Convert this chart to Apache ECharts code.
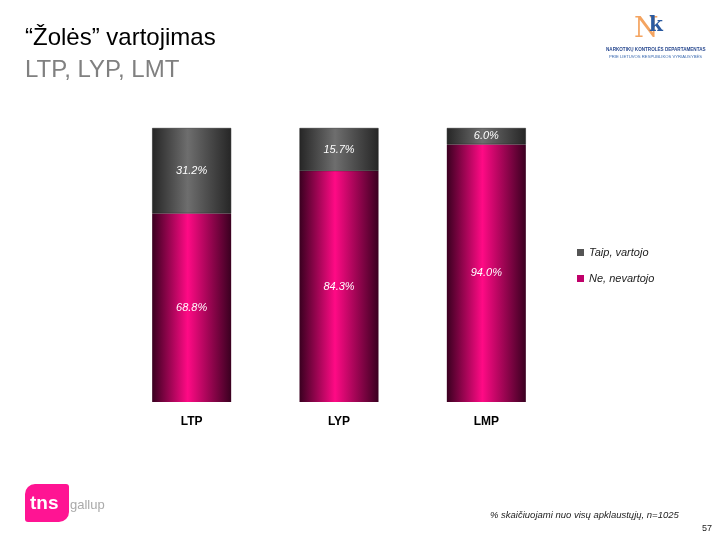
<!DOCTYPE html>
<html>
<head>
<meta charset="utf-8">
<script src="https://cdn.jsdelivr.net/npm/echarts@6/dist/echarts.min.js"></script>
<style>
body { margin: 0; background: #fff; }
#main { width: 720px; height: 540px; }
</style>
</head>
<body>
<div id="main"></div>
<script>
var categories = ['LTP', 'LYP', 'LMP']
var neValues = [68.8, 84.3, 94.0]
var taipValues = [31.2, 15.7, 6.0]
var seriesNames = ['Taip, vartojo', 'Ne, nevartojo']

function barGrad (edge, mid) {
  return new echarts.graphic.LinearGradient(0, 0, 1, 0, [
    { offset: 0, color: edge },
    { offset: 0.45, color: mid },
    { offset: 1, color: edge }
  ])
}

var labelStyle = {
  show: true,
  position: 'inside',
  color: '#fff',
  fontStyle: 'italic',
  fontSize: 11,
  fontFamily: 'Liberation Sans',
  formatter: function (p) { return p.value.toFixed(1) + '%' }
}

var chart = echarts.init(document.getElementById('main'))
chart.setOption({
  animation: false,
  grid: { left: 118, right: 160, top: 128, bottom: 138 },
  legend: {
    orient: 'vertical',
    left: 572,
    top: 242,
    itemGap: 15,
    itemWidth: 7,
    itemHeight: 7,
    icon: 'rect',
    data: [
      { name: seriesNames[0], itemStyle: { color: '#555555', borderWidth: 0 } },
      { name: seriesNames[1], itemStyle: { color: '#c0006a', borderWidth: 0 } }
    ],
    textStyle: { fontStyle: 'italic', fontSize: 11, color: '#222', fontFamily: 'Liberation Sans' }
  },
  xAxis: {
    type: 'category',
    data: categories,
    axisLine: { show: false },
    axisTick: { show: false },
    axisLabel: { color: '#000', fontWeight: 'bold', fontSize: 12, margin: 14, fontFamily: 'Liberation Sans' }
  },
  yAxis: {
    type: 'value',
    min: 0,
    max: 100,
    show: false
  },
  series: [
    {
      name: seriesNames[1],
      type: 'bar',
      stack: 'a',
      barWidth: 79,
      data: neValues,
      itemStyle: { color: barGrad('#3a0020', '#ff0a85') },
      label: labelStyle
    },
    {
      name: seriesNames[0],
      type: 'bar',
      stack: 'a',
      barWidth: 79,
      data: taipValues,
      itemStyle: { color: barGrad('#262626', '#6e6e6e'), borderColor: '#1a1a1a', borderWidth: 0.5 },
      label: labelStyle
    }
  ],
  graphic: [
    { type: 'text', left: 25, top: 26, style: { text: '“Žolės” vartojimas', fontSize: 24, fill: '#000', fontFamily: 'Liberation Sans', shadowColor: 'rgba(0,0,0,0.2)', shadowOffsetX: 1, shadowOffsetY: 1, shadowBlur: 1 } },
    { type: 'text', left: 25, top: 58, style: { text: 'LTP, LYP, LMT', fontSize: 24, fill: '#808080', fontFamily: 'Liberation Sans', shadowColor: 'rgba(0,0,0,0.2)', shadowOffsetX: 1, shadowOffsetY: 1, shadowBlur: 1 } },
    // NKD logo
    { type: 'text', left: 634, top: 16, style: { text: 'N', fontSize: 28, fill: '#f4a460', fontFamily: 'DejaVu Serif' } },
    { type: 'text', left: 649, top: 16, style: { text: 'k', fontSize: 20, fill: '#2a5aa0', fontFamily: 'DejaVu Serif', fontWeight: 'bold' } },
    { type: 'text', left: 606, top: 47, style: { text: 'NARKOTIKŲ KONTROLĖS DEPARTAMENTAS', fontSize: 4.6, fontWeight: 'bold', fill: '#2a4a90', fontFamily: 'Liberation Sans' } },
    { type: 'text', left: 609, top: 55, style: { text: 'PRIE LIETUVOS RESPUBLIKOS VYRIAUSYBĖS', fontSize: 4.2, fill: '#3a6ab0', fontFamily: 'Liberation Sans' } },
    // tns gallup logo
    { type: 'rect', left: 25, top: 484, shape: { width: 44, height: 38, r: [10, 3, 10, 3] }, style: { fill: '#ff1493' } },
    { type: 'text', left: 30, top: 494, style: { text: 'tns', fontSize: 19, fontWeight: 'bold', fill: '#fff', fontFamily: 'Liberation Sans' } },
    { type: 'text', left: 70, top: 499, style: { text: 'gallup', fontSize: 13, fill: '#aaa', fontFamily: 'Liberation Sans' } },
    // footnote
    { type: 'text', left: 490, top: 510, style: { text: '% skaičiuojami nuo visų apklaustųjų, n=1025', fontSize: 9.5, fontStyle: 'italic', fill: '#222', fontFamily: 'Liberation Sans' } },
    { type: 'text', left: 702, top: 524, style: { text: '57', fontSize: 9, fill: '#222', fontFamily: 'Liberation Sans' } }
  ]
})
</script>
</body>
</html>
